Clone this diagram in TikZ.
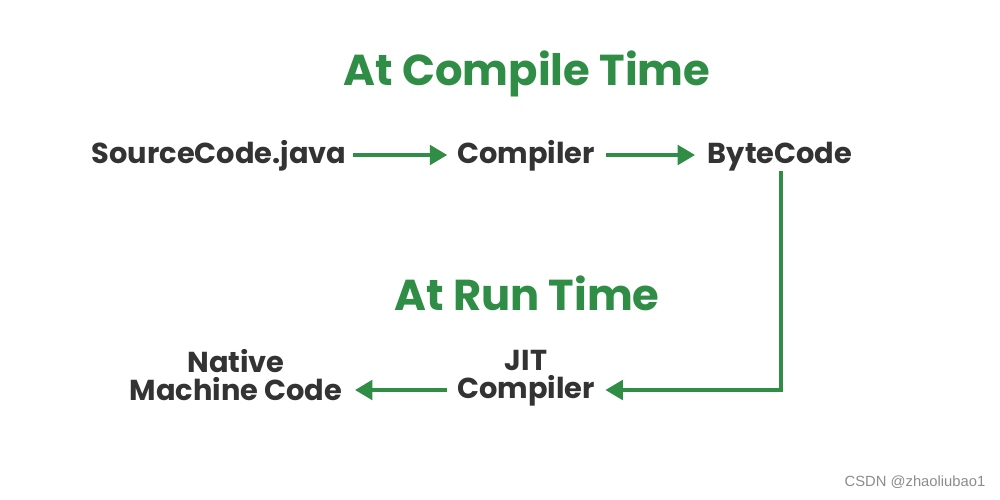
\documentclass[tikz,border=0pt]{standalone}
\usepackage{fontspec}
\setmainfont{Poppins}
\newfontfamily\wmfont{Liberation Sans}
\usetikzlibrary{arrows.meta}
\definecolor{gfg}{HTML}{2F8D46}
\definecolor{txt}{HTML}{333333}
\tikzset{
  lbl/.style={font=\fontsize{8.2}{8}\selectfont\bfseries, text=txt, inner sep=0pt, align=center},
  ttl/.style={font=\fontsize{12.3}{14}\selectfont\bfseries, text=gfg, inner sep=0pt, anchor=base},
  flow/.style={draw=gfg, line width=1.4pt, -{Triangle[length=5pt,width=5.5pt]}},
}
\begin{document}
\begin{tikzpicture}[x=0.01cm,y=-0.01cm]
\useasboundingbox (0,0) rectangle (1000,500);
\node[ttl] (t1) at (527,85) {At Compile Time};
\node[lbl, anchor=base] (src) at (219,163) {SourceCode.java};
\node[lbl, anchor=base] (comp) at (526,163) {Compiler};
\node[lbl, anchor=base] (bc) at (780,163) {ByteCode};
\node[ttl] (t2) at (527,310) {At Run Time};
\node[lbl] (jit) at (526,378) {JIT\\Compiler};
\node[lbl] (nat) at (236,375) {Native\\Machine Code};
\coordinate (corner) at (781,390);
\draw[flow] ([xshift=1.7pt]src.east |- 0,155) -- ([xshift=-2.6pt]comp.west |- 0,155);
\draw[flow] ([xshift=3.1pt]comp.east |- 0,155) -- ([xshift=-3.4pt]bc.west |- 0,155);
\draw[flow] (bc.south -| corner) -- (corner) -- ([xshift=2.8pt]jit.east |- corner);
\draw[flow] ([xshift=-2.8pt]jit.west |- corner) -- ([xshift=3.4pt]nat.east |- corner);
\node[font=\wmfont\fontsize{4.2}{5}\selectfont, text=black!45, anchor=east, inner sep=0pt] (wm) at (986,482) {CSDN @zhaoliubao1};
\end{tikzpicture}
\end{document}
